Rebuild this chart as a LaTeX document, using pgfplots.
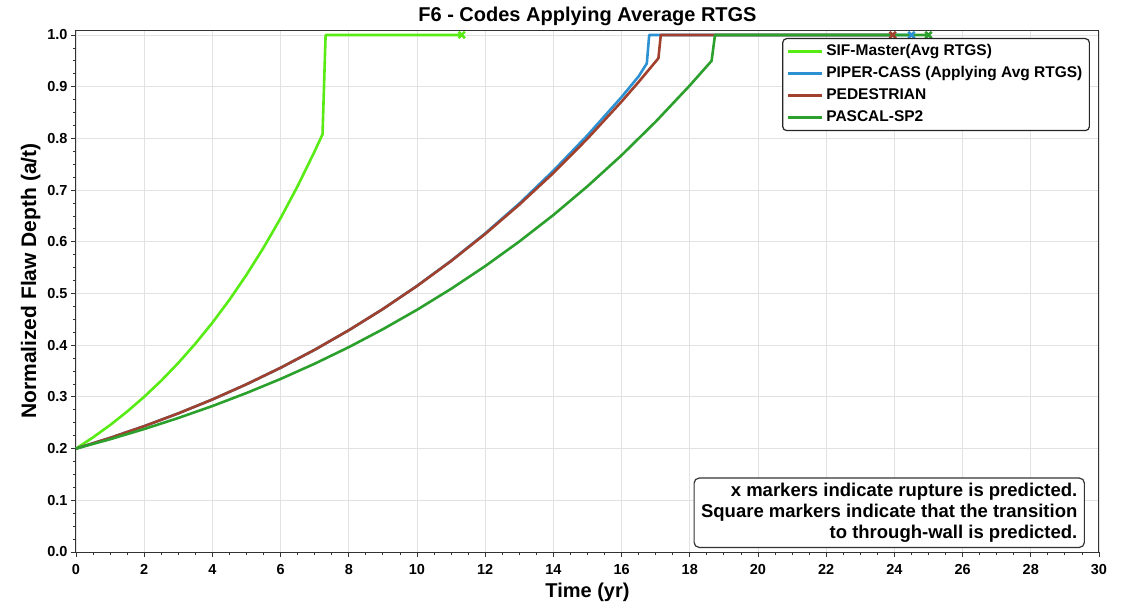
\documentclass[border=0pt]{standalone}
\usepackage{fontspec}
\setmainfont{Liberation Sans}
\usepackage{pgfplots}
\pgfplotsset{compat=1.18}

\definecolor{sifgreen}{RGB}{88,235,20}
\definecolor{piperblue}{RGB}{44,145,210}
\definecolor{pedbrown}{RGB}{160,64,45}
\definecolor{pascalgreen}{RGB}{44,160,44}
\definecolor{gridgray}{RGB}{226,226,226}

\begin{document}
\begin{tikzpicture}
\useasboundingbox (-76pt,-53pt) rectangle (1055pt,552pt);
\begin{axis}[
  at={(0pt,0pt)}, anchor=south west,
  scale only axis, width=1023pt, height=521pt,
  xmin=0, xmax=30, ymin=0, ymax=1.0077,
  xtick={0,2,...,30},
  ytick={0,0.1,0.2,0.3,0.4,0.5,0.6,0.7,0.8,0.9,1.0},
  minor x tick num=3, minor y tick num=3,
  tick align=outside, tick pos=left,
  major tick length=5pt, minor tick length=3pt,
  every tick/.style={black!80, line width=0.8pt},
  grid=major, major grid style={gridgray, line width=0.8pt},
  axis line style={black!80, line width=1pt},
  /pgf/number format/assume math mode=true,
  ticklabel style={font=\fontsize{14.5}{16}\selectfont\bfseries},
  yticklabel style={/pgf/number format/.cd, fixed, fixed zerofill, precision=1},
  xticklabel style={/pgf/number format/.cd, fixed, precision=0, /tikz/.cd, yshift=-4pt},
  title={F6 - Codes Applying Average RTGS},
  title style={font=\fontsize{20}{24}\selectfont\bfseries, at={(axis description cs:0.5,1)}, anchor=base, yshift=3pt},
  xlabel={Time (yr)},
  xlabel style={font=\fontsize{20}{24}\selectfont\bfseries, at={(axis description cs:0.5,0)}, anchor=base, yshift=-45pt},
  ylabel={Normalized Flaw Depth (a/t)},
  ylabel style={font=\fontsize{21}{25}\selectfont\bfseries, at={(axis description cs:-0.0391,0.52)}, anchor=base},
  clip=false,
  legend cell align=left,
  legend image code/.code={\draw[#1] (0pt,0pt) -- (34pt,0pt);},
  legend style={at={(axis description cs:1,1)}, anchor=north east, xshift=-9pt, yshift=-7pt,
    draw=black!85, line width=1.2pt, rounded corners=4pt, fill=white,
    font=\fontsize{15.5}{18}\selectfont\bfseries,
    nodes={text height=11pt, text depth=3pt, inner sep=3pt},
    row sep=2pt, inner xsep=4pt, inner ysep=3pt},
  every axis plot/.append style={line width=2.6pt, line join=round},
]

% SIF-Master (average RTGS)
\addplot[sifgreen, mark=none] coordinates {
  (0,0.2) (0.5,0.2217) (1,0.2455) (1.5,0.2716) (2,0.3002) (2.5,0.3314)
  (3,0.3656) (3.5,0.4029) (4,0.4435) (4.5,0.4878) (5,0.5361) (5.5,0.5886)
  (6,0.6457) (6.5,0.7077) (7,0.7751) (7.23,0.808) (7.32,1.0) (11.31,1.0)
};
\addlegendentry{SIF-Master(Avg RTGS)}

% PIPER-CASS
\addplot[piperblue, mark=none] coordinates {
  (0,0.2) (1,0.2207) (2,0.2434) (3,0.2681) (4,0.2950) (5,0.3244)
  (6,0.3563) (7,0.3911) (8,0.4289) (9,0.4700) (10,0.5147) (11,0.5633)
  (12,0.6162) (13,0.6740) (14,0.7375) (15,0.8060) (16,0.8800) (16.5,0.9200)
  (16.74,0.945) (16.81,1.0) (24.5,1.0)
};
\addlegendentry{PIPER-CASS (Applying Avg RTGS)}

% PEDESTRIAN
\addplot[pedbrown, mark=none] coordinates {
  (0,0.2) (1,0.2207) (2,0.2434) (3,0.2681) (4,0.2950) (5,0.3244)
  (6,0.3563) (7,0.3911) (8,0.4289) (9,0.4699) (10,0.5144) (11,0.5627)
  (12,0.6151) (13,0.6718) (14,0.7331) (15,0.7995) (16,0.8712) (16.5,0.9091)
  (17.08,0.955) (17.15,1.0) (23.95,1.0)
};
\addlegendentry{PEDESTRIAN}

% PASCAL-SP2
\addplot[pascalgreen, mark=none] coordinates {
  (0,0.2) (1,0.2181) (2,0.2378) (3,0.2592) (4,0.2823) (5,0.3075)
  (6,0.3347) (7,0.3642) (8,0.3962) (9,0.4309) (10,0.4684) (11,0.5090)
  (12,0.5529) (13,0.6005) (14,0.6518) (15,0.7074) (16,0.7674) (17,0.8323)
  (18,0.9023) (18.64,0.95) (18.74,1.0) (25.0,1.0)
};
\addlegendentry{PASCAL-SP2}

% rupture markers
\addplot[forget plot, only marks, mark=x, mark size=4.5pt, sifgreen] coordinates {(11.31,1.0)};
\addplot[forget plot, only marks, mark=x, mark size=4.5pt, pedbrown] coordinates {(23.95,1.0)};
\addplot[forget plot, only marks, mark=x, mark size=4.5pt, piperblue] coordinates {(24.5,1.0)};
\addplot[forget plot, only marks, mark=x, mark size=4.5pt, pascalgreen] coordinates {(25.0,1.0)};

\node[draw=black!80, line width=1.2pt, rounded corners=5pt, fill=white,
      align=right, anchor=south east,
      font=\fontsize{18.5}{21}\selectfont\bfseries,
      inner xsep=7pt, inner ysep=5pt, xshift=-14pt, yshift=4pt]
  at (rel axis cs:1,0)
  {x markers indicate rupture is predicted.\\
   Square markers indicate that the transition\\
   to through-wall is predicted.};
\end{axis}
\end{tikzpicture}
\end{document}
